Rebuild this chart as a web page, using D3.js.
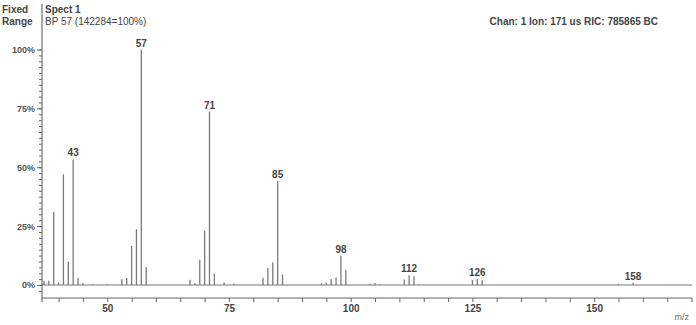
<!DOCTYPE html>
<html>
<head>
<meta charset="utf-8">
<script src="https://cdn.jsdelivr.net/npm/d3@7"></script>
<style>
  body { margin: 0; background: #fff; }
  svg text { font-family: "Liberation Sans", Arial, sans-serif; fill: #444; }
</style>
</head>
<body>
<div id="chart"></div>
<script>
// spectrum peaks (m/z, relative intensity %)
const mzValues = [37, 38, 39, 40, 41, 42, 43, 44, 45, 47, 50, 53, 54, 55, 56, 57, 58,
  67, 68, 69, 70, 71, 72, 74, 76, 82, 83, 84, 85, 86, 94, 95, 96, 97, 98, 99,
  104, 105, 106, 111, 112, 113, 114, 125, 126, 127, 155, 158];
const intensities = [1.8, 1.8, 31, 1.1, 47, 10, 53.3, 3.1, 0.8, 0.3, 0.3, 2.4, 3, 16.6, 23.7, 100, 7.6,
  2.2, 0.8, 10.7, 23, 73.6, 4.8, 1.1, 0.5, 3.1, 7.2, 9.7, 44.2, 4.5, 0.8, 1, 2.5, 3.2, 12.4, 6.5,
  0.5, 0.8, 0.3, 2.3, 4.1, 3.7, 0.3, 2.1, 2.5, 2, 0.5, 1];
const labeledPeaks = [43, 57, 71, 85, 98, 112, 126, 158];
const yTickLabels = [0, 25, 50, 75, 100];
const xTickLabels = [50, 75, 100, 125, 150];

const width = 696, height = 325;

const svg = d3.select("#chart")
  .append("svg")
  .attr("width", width)
  .attr("height", height);

const x = d3.scaleLinear().domain([36.6, 170.1]).range([42, 692]);
const y = d3.scaleLinear().domain([0, 100]).range([285, 49.5]);

const peaks = mzValues.map((mz, i) => ({ mz, value: intensities[i] }));

// baseline at 0%
svg.append("line")
  .attr("x1", x.range()[0]).attr("x2", x.range()[1])
  .attr("y1", y(0)).attr("y2", y(0))
  .attr("stroke", "#777").attr("stroke-width", 1);

// peaks
svg.selectAll(".peak")
  .data(peaks)
  .enter()
  .append("line")
  .attr("class", "peak")
  .attr("x1", (d) => x(d.mz)).attr("x2", (d) => x(d.mz))
  .attr("y1", y(0)).attr("y2", (d) => y(d.value))
  .attr("stroke", "#7a7a7a")
  .attr("stroke-width", 1.3);

// peak labels
svg.selectAll(".peak-label")
  .data(peaks.filter((d) => labeledPeaks.includes(d.mz)))
  .enter()
  .append("text")
  .attr("class", "peak-label")
  .attr("x", (d) => x(d.mz))
  .attr("y", (d) => y(d.value) - 3)
  .attr("text-anchor", "middle")
  .style("font-size", "10px")
  .style("font-weight", "bold")
  .text((d) => d.mz);

// Y axis
svg.append("line")
  .attr("x1", 42).attr("x2", 42)
  .attr("y1", 4).attr("y2", 302)
  .attr("stroke", "#555");

const minorY = d3.range(-2.5, 100.1, 2.5);
svg.append("g")
  .attr("transform", "translate(42,0)")
  .call(d3.axisLeft(y).tickValues(minorY).tickSize(3).tickFormat(""))
  .call((g) => g.select(".domain").remove())
  .call((g) => g.selectAll("line").attr("stroke", "#666"));

svg.append("g")
  .attr("transform", "translate(42,0)")
  .call(d3.axisLeft(y).tickValues(yTickLabels).tickSize(5).tickPadding(2).tickFormat((d) => d + "%"))
  .call((g) => g.select(".domain").remove())
  .call((g) => g.selectAll("line").attr("stroke", "#666"))
  .call((g) => g.selectAll("text")
    .style("font-size", "9px")
    .style("font-weight", "bold")
    .style("fill", "#555"));

// X axis
const xAxisY = 298;
svg.append("g")
  .attr("transform", `translate(0,${xAxisY})`)
  .call(d3.axisBottom(x)
    .tickValues(d3.range(40, 171, 5))
    .tickSize(4)
    .tickPadding(3)
    .tickFormat((d) => (xTickLabels.includes(d) ? d : "")))
  .call((g) => g.select(".domain").attr("stroke", "#666").attr("d", `M${x.range()[0]},0H${x.range()[1]}`))
  .call((g) => g.selectAll("line").attr("stroke", "#666"))
  .call((g) => g.selectAll("text")
    .style("font-size", "10px")
    .style("font-weight", "bold")
    .style("fill", "#444"));

svg.append("text")
  .attr("x", 689).attr("y", 320)
  .attr("text-anchor", "end")
  .style("font-size", "9px")
  .style("fill", "#666")
  .text("m/z");

// header texts
svg.append("text").attr("x", 2).attr("y", 13)
  .style("font-size", "10px").style("font-weight", "bold").text("Fixed");
svg.append("text").attr("x", 2).attr("y", 25)
  .style("font-size", "10px").style("font-weight", "bold").text("Range");
svg.append("text").attr("x", 45).attr("y", 13)
  .style("font-size", "10px").style("font-weight", "bold").text("Spect 1");
svg.append("text").attr("x", 45).attr("y", 25)
  .style("font-size", "10px").text("BP 57 (142284=100%)");
svg.append("text").attr("x", 658).attr("y", 25)
  .attr("text-anchor", "end")
  .style("font-size", "10px").style("font-weight", "bold")
  .text("Chan: 1 Ion: 171 us RIC: 785865 BC");
</script>
</body>
</html>
